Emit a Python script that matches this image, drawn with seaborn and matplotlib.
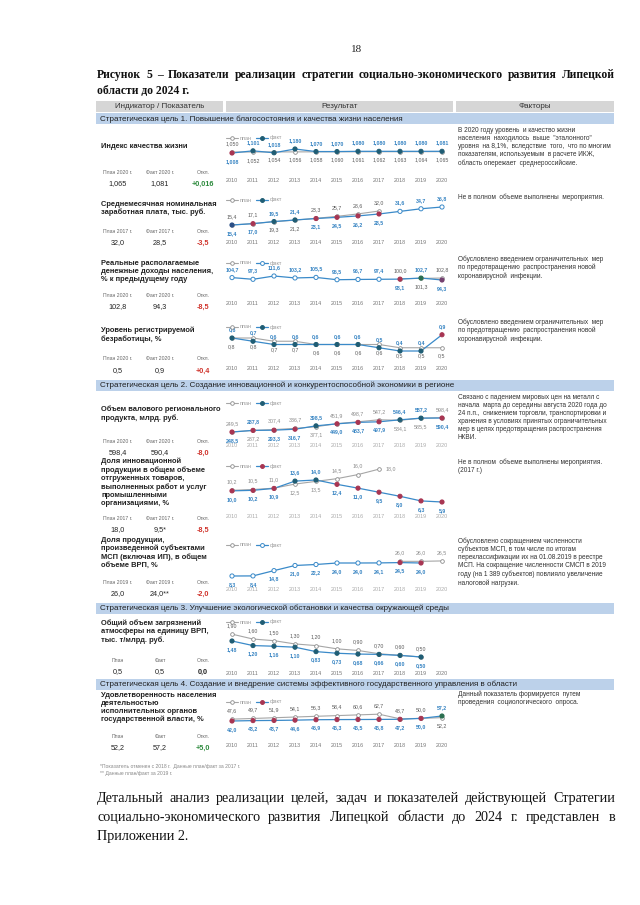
import matplotlib
matplotlib.use("Agg")
import matplotlib.pyplot as plt
import seaborn as sns
import pandas as pd
from matplotlib.patches import Rectangle
from matplotlib.lines import Line2D

# ---------------- data ----------------
years = list(range(2010, 2021))

qol_plan_years = years
qol_plan = [1.050, 1.052, 1.054, 1.056, 1.058, 1.060, 1.061, 1.062, 1.063, 1.064, 1.065]
qol_fact_years = years
qol_fact = [1.008, 1.101, 1.018, 1.180, 1.070, 1.070, 1.080, 1.080, 1.080, 1.080, 1.081]

wage_plan_years = list(range(2010, 2018))
wage_plan = [15.4, 17.1, 19.3, 21.2, 23.3, 25.7, 28.6, 32.0]
wage_fact_years = years
wage_fact = [15.4, 17.0, 19.5, 21.4, 23.1, 24.5, 26.2, 28.5, 31.6, 34.7, 36.8]

income_plan_years = [2018, 2019, 2020]
income_plan = [100.0, 101.3, 102.8]
income_fact_years = years
income_fact = [104.7, 97.3, 111.6, 103.2, 105.5, 95.5, 96.7, 97.4, 98.1, 102.7, 94.3]

unemp_plan_years = years
unemp_plan = [0.8, 0.8, 0.7, 0.7, 0.6, 0.6, 0.6, 0.6, 0.5, 0.5, 0.5]
unemp_fact_years = years
unemp_fact = [0.8, 0.7, 0.6, 0.6, 0.6, 0.6, 0.6, 0.5, 0.4, 0.4, 0.9]

grp_plan_years = years
grp_plan = [249.5, 287.2, 307.4, 336.7, 377.1, 451.9, 498.7, 547.2, 534.1, 585.5, 598.4]
grp_fact_years = years
grp_fact = [248.5, 287.8, 293.3, 316.7, 398.5, 449.0, 483.7, 497.9, 546.4, 587.2, 590.4]

innov_plan_years = list(range(2010, 2018))
innov_plan = [10.2, 10.5, 11.0, 12.5, 13.5, 14.5, 16.0, 18.0]
innov_fact_years = years
innov_fact = [10.0, 10.2, 10.9, 13.6, 14.0, 12.4, 11.0, 9.5, 8.0, 6.3, 5.9]

sme_plan_years = [2018, 2019, 2020]
sme_plan = [26.0, 26.0, 26.5]
sme_fact_years = list(range(2010, 2020))
sme_fact = [8.3, 8.4, 14.8, 21.0, 22.2, 24.0, 24.0, 24.1, 24.5, 24.0]

poll_plan_years = list(range(2010, 2020))
poll_plan = [1.90, 1.60, 1.50, 1.30, 1.20, 1.00, 0.90, 0.70, 0.60, 0.50]
poll_fact_years = list(range(2010, 2020))
poll_fact = [1.48, 1.20, 1.16, 1.10, 0.83, 0.73, 0.68, 0.66, 0.60, 0.50]

sat_plan_years = years
sat_plan = [47.6, 49.7, 51.9, 54.1, 56.3, 58.4, 60.6, 62.7, 48.7, 50.0, 52.2]
sat_fact_years = years
sat_fact = [42.0, 43.2, 43.7, 44.6, 45.9, 46.3, 46.5, 46.8, 47.2, 50.0, 57.2]

indicator_titles = [
    "Индекс качества жизни",
    "Среднемесячная номинальная\nзаработная плата, тыс. руб.",
    "Реальные располагаемые\nденежные доходы населения,\n% к предыдущему году",
    "Уровень регистрируемой\nбезработицы, %",
    "Объем валового регионального\nпродукта, млрд. руб.",
    "Доля инновационной\nпродукции в общем объеме\nотгруженных товаров,\nвыполненных работ и услуг\nпромышленными\nорганизациями, %",
    "Доля продукции,\nпроизведенной субъектами\nМСП (включая ИП), в общем\nобъеме ВРП, %",
    "Общий объем загрязнений\nатмосферы на единицу ВРП,\nтыс. т/млрд. руб.",
    "Удовлетворенность населения\nдеятельностью\nисполнительных органов\nгосударственной власти, %",
]
summary_heads = [
    ("План 2020 г.", "Факт 2020 г.", "Откл."),
    ("План 2017 г.", "Факт 2017 г.", "Откл."),
    ("План 2020 г.", "Факт 2020 г.", "Откл."),
    ("План 2020 г.", "Факт 2020 г.", "Откл."),
    ("План 2020 г.", "Факт 2020 г.", "Откл."),
    ("План 2017 г.", "Факт 2017 г.", "Откл."),
    ("План 2019 г.", "Факт 2019 г.", "Откл."),
    ("План", "Факт", "Откл."),
    ("План", "Факт", "Откл."),
]
summary_values = [
    ("1,065", "1,081", "+0,016"),
    ("32,0", "28,5", "-3,5"),
    ("102,8", "94,3", "-8,5"),
    ("0,5", "0,9", "+0,4"),
    ("598,4", "590,4", "-8,0"),
    ("18,0", "9,5*", "-8,5"),
    ("26,0", "24,0**", "-2,0"),
    ("0,5", "0,5", "0,0"),
    ("52,2", "57,2", "+5,0"),
]
goal_titles = [
    "Стратегическая цель 1. Повышение благосостояния и качества жизни населения",
    "Стратегическая цель 2. Создание инновационной и конкурентоспособной экономики в регионе",
    "Стратегическая цель 3. Улучшение экологической обстановки и качества окружающей среды",
    "Стратегическая цель 4. Создание и внедрение системы эффективного государственного управления в области",
]
factor_texts = [
    "В 2020 году уровень  и качество жизни\nнаселения  находилось  выше  \"эталонного\"\nуровня  на 8,1%,  вследствие  того,  что по многим\nпоказателям, используемым  в расчете ИКЖ,\nобласть опережает  среднероссийские.",
    "Не в полном  объеме выполнены  мероприятия.",
    "Обусловлено введением ограничительных  мер\nпо предотвращению  распространения новой\nкоронавирусной  инфекции.",
    "Обусловлено введением ограничительных  мер\nпо предотвращению  распространения новой\nкоронавирусной  инфекции.",
    "Связано с падением мировых цен на металл с\nначала  марта до середины августа 2020 года до\n24 п.п.,  снижением торговли, транспортировки и\nхранения в условиях принятых ограничительных\nмер в целях предотвращения распространения\nНКВИ.",
    "Не в полном  объеме выполнены мероприятия.\n(2017 г.)",
    "Обусловлено сокращением численности\nсубъектов МСП, в том числе по итогам\nпереклассификации их на 01.08.2019 в реестре\nМСП. На сокращение численности СМСП в 2019\nгоду (на 1 389 субъектов) повлияло увеличение\nналоговой нагрузки.",
    "Данный показатель формируется  путем\nпроведения  социологического  опроса.",
]
legend_labels = ["план", "факт"]

# ---------------- style / layout ----------------
sns.set_theme(style="white")
plt.rcParams["font.family"] = ["Liberation Sans", "DejaVu Sans"]
SERIF = ["Liberation Serif", "DejaVu Serif"]

W, H = 640, 905
fig = plt.figure(figsize=(6.4, 9.05), dpi=100)
bg = fig.add_axes([0, 0, 1, 1])
bg.set_xlim(0, W)
bg.set_ylim(H, 0)
bg.axis("off")

FACT_LINE = "#3a8ac9"
PLAN_LINE = "#a6a6a6"
FACT_LBL = "#3583c2"
MCOL = {"t": "#1f5d74", "r": "#a83552", "g": "#2a6e50", "p": "#74406f", "b": "#2a4f86"}

chart_cfg = [
    dict(px=qol_plan_years, p=qol_plan, fx=qol_fact_years, f=qol_fact, dec=3, leg=138, yr=181,
         ref=((1.008, 153), (1.18, 149)), fpos="duuuuuuuuuu", ppos="udddddddddd", mc="rtttttttttt", legm="t"),
    dict(px=wage_plan_years, p=wage_plan, fx=wage_fact_years, f=wage_fact, dec=1, leg=200, yr=243,
         ref=((15.4, 225), (36.8, 207)), fpos="dduudddduuu", ppos="uudduuuu", mc="brttrrrrooo", legm="t"),
    dict(px=income_plan_years, p=income_plan, fx=income_fact_years, f=income_fact, dec=1, leg=263, yr=304,
         ref=((94.3, 280), (111.6, 276)), fpos="uuuuuuuudud", ppos="udu", mc="oooooooorgp", legm="o"),
    dict(px=unemp_plan_years, p=unemp_plan, fx=unemp_fact_years, f=unemp_fact, dec=1, leg=327, yr=369,
         ref=((0.4, 351), (0.8, 338)), fpos="uuuuuuuuuuu", ppos="ddddddddddd", mc="ttttttttttr", legm="t"),
    dict(px=grp_plan_years, p=grp_plan, fx=grp_fact_years, f=grp_fact, dec=1, leg=403, yr=446,
         ref=((248.5, 432), (590.4, 418)), fpos="dudduddduud", ppos="uduuduuuddu", mc="rrrrtrrrttr", legm="t", light=True),
    dict(px=innov_plan_years, p=innov_plan, fx=innov_fact_years, f=innov_fact, dec=1, leg=466, yr=517,
         ref=((5.9, 502), (14.0, 480)), fpos="ddduudddddd", ppos="uuudduur", mc="rrrttrrrrrr", legm="r", light=True),
    dict(px=sme_plan_years, p=sme_plan, fx=sme_fact_years, f=sme_fact, dec=1, leg=545, yr=590,
         ref=((8.3, 576), (24.0, 563)), fpos="dddddddddd", ppos="uuu", mc="oooooooorr", legm="o", light=True),
    dict(px=poll_plan_years, p=poll_plan, fx=poll_fact_years, f=poll_fact, dec=2, leg=622, yr=674,
         ref=((0.50, 657), (1.48, 641)), fpos="dddddddddd", ppos="uuuuuuuuuu", mc="tttttttttt", legm="t"),
    dict(px=sat_plan_years, p=sat_plan, fx=sat_fact_years, f=sat_fact, dec=1, leg=702, yr=746,
         ref=((42.0, 721), (57.2, 716)), fpos="ddddddddddu", ppos="uuuuuuuuuud", mc="rrrrrrrrrrg", legm="r"),
]
title_y = [148, 205, 264, 331, 410, 462, 541, 624, 696]
summary_y = [(172, 184), (231, 243), (295, 307), (358, 371), (441, 453), (518, 530), (582, 594), (660, 672), (736, 748)]
dev_colors = ["#2e8b3e", "#d0342c", "#d0342c", "#d0342c", "#d0342c", "#d0342c", "#d0342c", "#222222", "#2e8b3e"]
goal_y = [119, 385, 608, 684]
factor_y = [131, 197, 259, 322, 397, 462, 541, 694]
col_x = [118, 160, 203]


def fmt(v, d):
    return f"{v:.{d}f}".replace(".", ",")


def justify(text, x0, x1, y, **kw):
    words = text.split()
    r = fig.canvas.get_renderer()
    objs = [bg.text(0, y, w, va="center", ha="left", **kw) for w in words]
    widths = [o.get_window_extent(r).width for o in objs]
    gap = (x1 - x0 - sum(widths)) / (len(words) - 1)
    x = x0
    for o, w in zip(objs, widths):
        o.set_x(x)
        x += w + gap


# page header
bg.text(357, 50, "18", ha="center", va="center", fontsize=8, family=SERIF, color="#222")
justify("Рисунок 5 – Показатели реализации стратегии социально-экономического развития Липецкой",
        97, 615, 75, fontsize=8.4, family=SERIF, fontweight="bold", color="#111")
bg.text(97, 91, "области до 2024 г.", ha="left", va="center", fontsize=8.4, family=SERIF,
        fontweight="bold", color="#111")

# table header
for (x0, x1, t) in [(96, 223, "Индикатор / Показатель"), (226, 453, "Результат"), (456, 614, "Факторы")]:
    bg.add_patch(Rectangle((x0, 101), x1 - x0, 11, facecolor="#d6d6d6", edgecolor="none"))
    bg.text((x0 + x1) / 2, 106.5, t, ha="center", va="center", fontsize=5.8, color="#333")

# goal bands
for gy, gt in zip(goal_y, goal_titles):
    bg.add_patch(Rectangle((96, gy - 5.5), 518, 11, facecolor="#bcd1ea", edgecolor="none"))
    bg.text(100, gy, gt, ha="left", va="center", fontsize=5.8, color="#1f1f1f")

# indicator titles and summaries
for i, t in enumerate(indicator_titles):
    bg.text(101, title_y[i] - 4.5, t, ha="left", va="top", fontsize=5.4, fontweight="bold",
            color="#222", linespacing=1.22)
    ly, vy = summary_y[i]
    for j in range(3):
        bg.text(col_x[j], ly, summary_heads[i][j], ha="center", va="center", fontsize=3.7, color="#666")
        bg.text(col_x[j], vy, summary_values[i][j], ha="center", va="center", fontsize=5.2,
                color=dev_colors[i] if j == 2 else "#222", fontweight="bold" if j == 2 else "normal")

# factors
for fy, ft in zip(factor_y, factor_texts):
    bg.text(458, fy - 3.5, ft, ha="left", va="top", fontsize=4.7, color="#333", linespacing=1.2)

# footnotes
bg.text(100, 766, "*Показатель отменен с 2018 г.  Данные план/факт за 2017 г.", ha="left", va="center",
        fontsize=3.6, color="#888")
bg.text(100, 773, "** Данные план/факт за 2019 г.", ha="left", va="center", fontsize=3.6, color="#888")

# bottom paragraph
justify("Детальный анализ реализации целей, задач и показателей действующей Стратегии",
        97, 615, 798, fontsize=10.2, family=SERIF, color="#111")
justify("социально-экономического развития Липецкой области до 2024 г. представлен в",
        97, 615, 817, fontsize=10.2, family=SERIF, color="#111")
bg.text(97, 836, "Приложении 2.", ha="left", va="center", fontsize=10.2, family=SERIF, color="#111")

# charts
X0, X1 = 221.5, 452.5
for c in chart_cfg:
    T = c["leg"] - 8
    B = c["yr"] - 5
    (v1, p1), (v2, p2) = c["ref"]
    s = (p1 - p2) / (v2 - v1)
    ymin = v1 - (B - p1) / s
    ymax = v1 + (p1 - T) / s
    ax = fig.add_axes([X0 / W, 1 - B / H, (X1 - X0) / W, (B - T) / H])
    ax.patch.set_alpha(0)
    ax.set_xlim(2009.5, 2020.5)
    ax.set_ylim(ymin, ymax)
    for sp in ax.spines.values():
        sp.set_visible(False)
    ax.set_yticks([])
    ax.set_xticks(years)
    yc = "#aaaaaa" if c.get("light") else "#777777"
    ax.set_xticklabels([str(y) for y in years], fontsize=3.9, color=yc)
    ax.tick_params(axis="x", length=0, pad=1.2)

    dp = pd.DataFrame({"year": c["px"], "value": c["p"]})
    dfc = pd.DataFrame({"year": c["fx"], "value": c["f"]})
    sns.lineplot(data=dp, x="year", y="value", ax=ax, color=PLAN_LINE, lw=0.8, zorder=2)
    sns.lineplot(data=dfc, x="year", y="value", ax=ax, color=FACT_LINE, lw=0.9, zorder=3)
    ax.set_xlabel("")
    ax.set_ylabel("")
    ax.scatter(c["px"], c["p"], s=7, facecolor="white", edgecolor="#8c8c8c", linewidth=0.6, zorder=4)
    fcs = ["white" if m == "o" else MCOL[m] for m in c["mc"]]
    ecs = [FACT_LINE if m == "o" else MCOL[m] for m in c["mc"]]
    ax.scatter(c["fx"], c["f"], s=9, facecolor=fcs, edgecolor=ecs, linewidth=0.7, zorder=5)

    off = 6.0
    plc = "#8a8a8a" if c.get("light") else "#5a5a5a"
    for x, v, pos in zip(c["px"], c["p"], c["ppos"]):
        if pos == "r":
            ax.annotate(fmt(v, c["dec"]), (x, v), xytext=(5, 0), textcoords="offset points",
                        ha="left", va="center", fontsize=3.8, color=plc)
        else:
            ax.annotate(fmt(v, c["dec"]), (x, v), xytext=(0, off if pos == "u" else -off),
                        textcoords="offset points", ha="center", va="center", fontsize=3.8, color=plc)
    for x, v, pos in zip(c["fx"], c["f"], c["fpos"]):
        ax.annotate(fmt(v, c["dec"]), (x, v), xytext=(0, off if pos == "u" else -off),
                    textcoords="offset points", ha="center", va="center", fontsize=3.8,
                    color=FACT_LBL, fontweight="bold")

    lm = c["legm"]
    h_plan = Line2D([], [], color=PLAN_LINE, lw=0.8, marker="o", ms=2.6, mfc="white", mec="#8c8c8c", mew=0.6)
    h_fact = Line2D([], [], color=FACT_LINE, lw=0.9, marker="o", ms=2.8,
                    mfc="white" if lm == "o" else MCOL[lm], mec=FACT_LINE if lm == "o" else MCOL[lm], mew=0.7)
    ax.legend([h_plan, h_fact], legend_labels, loc="center left",
              bbox_to_anchor=(226 / W, 1 - c["leg"] / H), bbox_transform=fig.transFigure,
              ncol=2, frameon=False, fontsize=3.9, handlelength=2.2, handletextpad=0.3,
              columnspacing=0.9, borderpad=0, borderaxespad=0, labelcolor="#999999")

fig.savefig("out.png", dpi=100)
